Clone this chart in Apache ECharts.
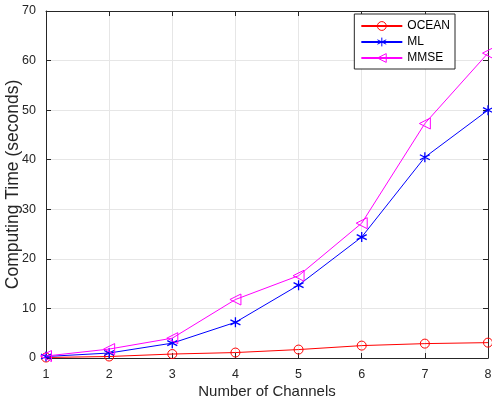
<!DOCTYPE html>
<html><head><meta charset="utf-8">
<script src="https://cdn.jsdelivr.net/npm/echarts@6/dist/echarts.min.js"></script>
<style>html,body{margin:0;padding:0;background:#fff}#c{width:492px;height:400px}</style>
</head><body><div id="c"></div>
<script>
var channels = [1, 2, 3, 4, 5, 6, 7, 8];
var ocean = [0.1, 0.3, 0.8, 1.1, 1.7, 2.5, 2.9, 3.1];
var ml = [0.3, 1.0, 3.0, 7.2, 14.7, 24.4, 40.5, 50.0];
var mmse = [0.4, 1.8, 4.0, 11.8, 16.6, 27.2, 47.3, 61.5];
var seriesNames = ['OCEAN', 'ML', 'MMSE'];
var seriesColors = ['#ff0000', '#0000ff', '#ff00ff'];
var xTitle = 'Number of Channels';
var yTitle = 'Computing Time (seconds)';

var font = 'Liberation Sans, Arial, sans-serif';
var axisColor = '#262626';
function pairs(arr){ return channels.map(function(c,i){ return [c, arr[i]]; }); }
var asterisk = 'path://M5,0L5,10M0.7,2.5L9.3,7.5M9.3,2.5L0.7,7.5';
var triLeft = 'path://M0,5L10,0L10,10Z';

var chart = echarts.init(document.getElementById('c'), null, {renderer:'canvas'});
var baseX = {type:'value', min:1, max:8, interval:1};
var baseY = {type:'value', min:0, max:70, interval:10};
chart.setOption({
  animation:false,
  backgroundColor:'#fff',
  textStyle:{fontFamily:font},
  grid:{left:46, right:4, top:11, bottom:42, containLabel:false, outerBoundsMode:'none'},
  legend:{
    data:seriesNames.map(function(n,i){
      return {name:n, itemStyle:{color:'rgba(255,255,255,0)', borderColor:seriesColors[i], borderWidth:1}};
    }),
    orient:'vertical', right:37, top:14,
    backgroundColor:'#fff', borderColor:'#262626', borderWidth:1, borderRadius:0,
    padding:[6,5,5,6], itemGap:4, itemWidth:41, itemHeight:11,
    textStyle:{fontFamily:font, fontSize:12, color:'#000'}
  },
  xAxis:[
    Object.assign({}, baseX, {position:'bottom',
      name:xTitle, nameLocation:'middle', nameGap:26, nameMoveOverlap:false,
      nameTextStyle:{fontFamily:font, fontSize:15, color:axisColor},
      axisLine:{onZero:false, lineStyle:{color:axisColor, width:1}},
      axisTick:{inside:true, length:5, lineStyle:{color:axisColor}},
      axisLabel:{fontFamily:font, fontSize:12.5, color:axisColor, margin:10},
      splitLine:{show:true, lineStyle:{color:'#e6e6e6', width:1}}}),
    Object.assign({}, baseX, {position:'top',
      axisLine:{onZero:false, lineStyle:{color:axisColor, width:1}},
      axisTick:{inside:true, length:5, lineStyle:{color:axisColor}},
      axisLabel:{show:false}, splitLine:{show:false}})
  ],
  yAxis:[
    Object.assign({}, baseY, {position:'left',
      name:yTitle, nameLocation:'middle', nameGap:24, nameMoveOverlap:false,
      nameTextStyle:{fontFamily:font, fontSize:17.5, color:axisColor},
      axisLine:{onZero:false, lineStyle:{color:axisColor, width:1}},
      axisTick:{inside:true, length:5, lineStyle:{color:axisColor}},
      axisLabel:{fontFamily:font, fontSize:12.5, color:axisColor, margin:10},
      splitLine:{show:true, lineStyle:{color:'#e6e6e6', width:1}}}),
    Object.assign({}, baseY, {position:'right',
      axisLine:{onZero:false, lineStyle:{color:axisColor, width:1}},
      axisTick:{inside:true, length:5, lineStyle:{color:axisColor}},
      axisLabel:{show:false}, splitLine:{show:false}})
  ],
  series:[
    {name:seriesNames[0], type:'line', data:pairs(ocean), symbol:'circle', symbolSize:9,
     color:seriesColors[0], lineStyle:{color:seriesColors[0], width:1},
     itemStyle:{color:'rgba(255,255,255,0)', borderColor:seriesColors[0], borderWidth:1}, z:3},
    {name:seriesNames[1], type:'line', data:pairs(ml), symbol:asterisk, symbolSize:10,
     color:seriesColors[1], lineStyle:{color:seriesColors[1], width:1},
     itemStyle:{color:'rgba(0,0,0,0)', borderColor:seriesColors[1], borderWidth:1.3}, z:4},
    {name:seriesNames[2], type:'line', data:pairs(mmse), symbol:triLeft, symbolSize:[11,11],
     color:seriesColors[2], lineStyle:{color:seriesColors[2], width:1},
     itemStyle:{color:'rgba(255,255,255,0)', borderColor:seriesColors[2], borderWidth:1}, z:5}
  ]
});
</script></body></html>
